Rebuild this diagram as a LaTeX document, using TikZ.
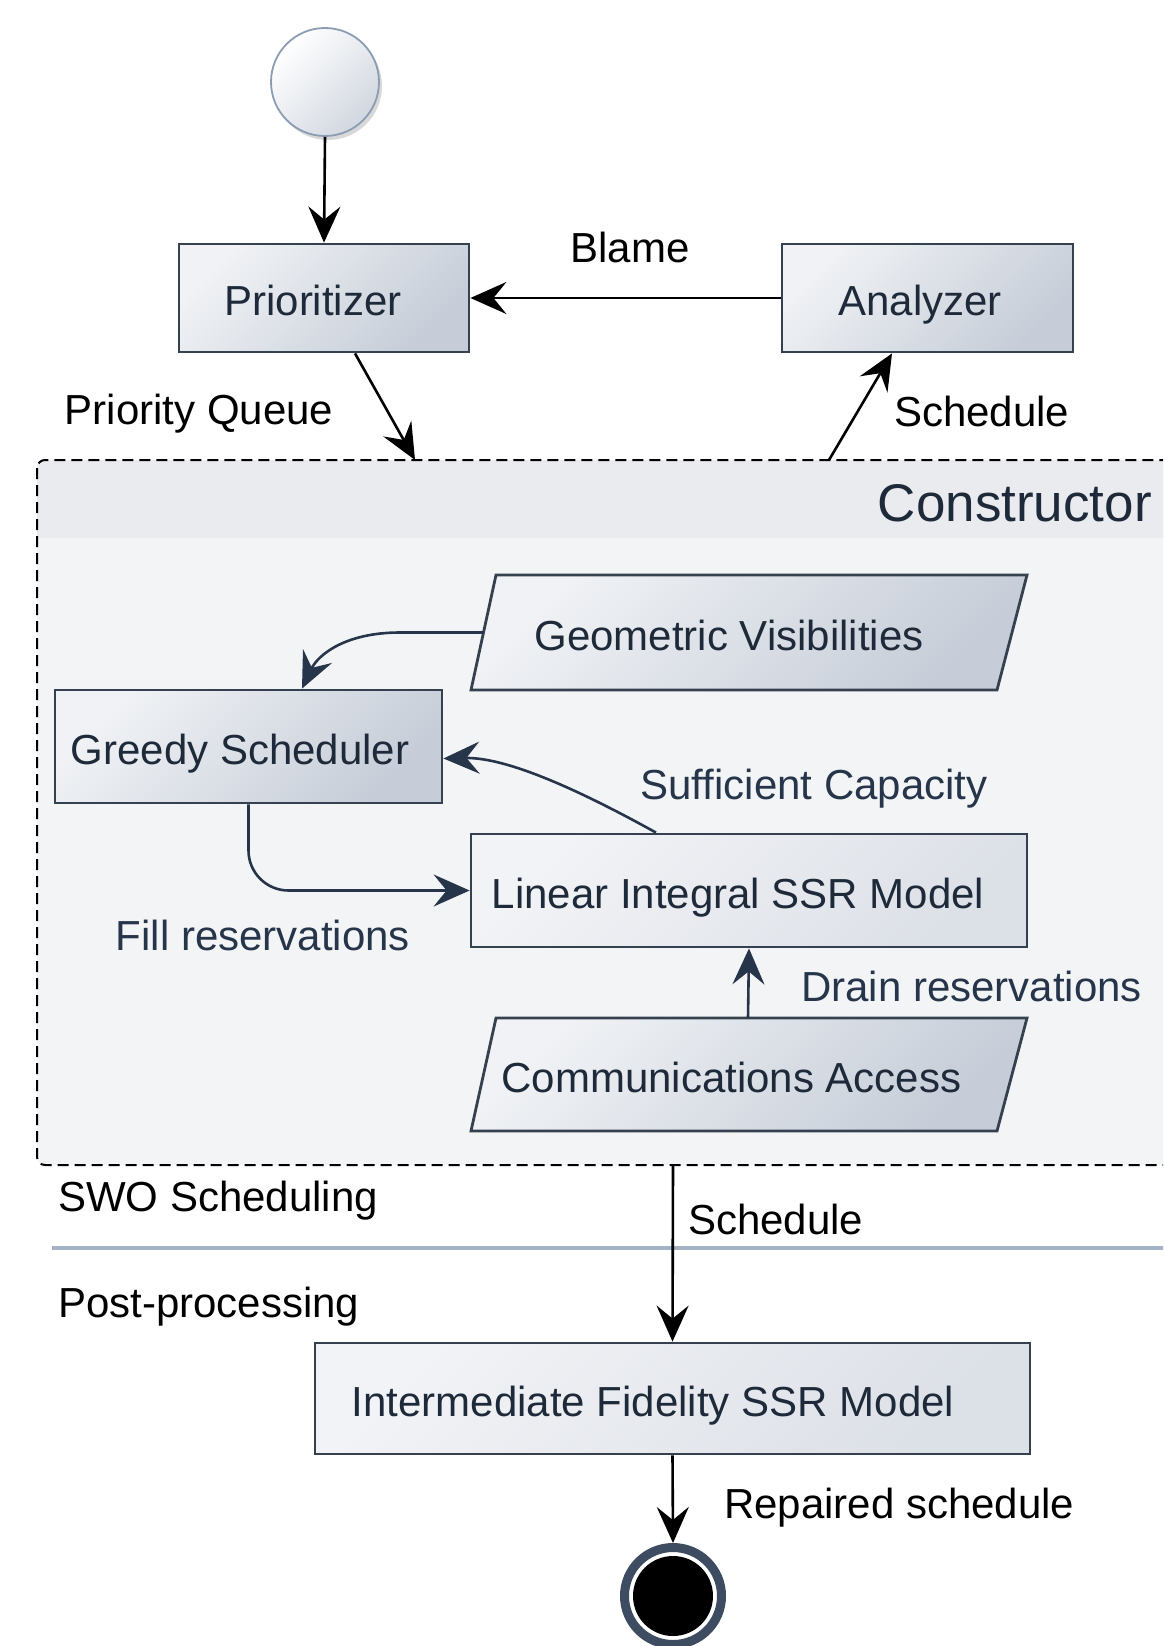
\documentclass[tikz,border=0pt]{standalone}
\usepackage{fontspec}
\setmainfont{Liberation Sans}
\usetikzlibrary{arrows.meta,shadows}

\definecolor{boxlight}{HTML}{F0F2F5}
\definecolor{boxdark}{HTML}{C6CDD8}
\definecolor{palelight}{HTML}{F2F3F6}
\definecolor{paledark}{HTML}{DCE0E7}
\definecolor{edge}{HTML}{36414F}
\definecolor{ink}{HTML}{1E2A39}
\definecolor{laneink}{HTML}{26354A}
\definecolor{regionfill}{HTML}{F3F4F6}
\definecolor{regionhead}{HTML}{EAEBEE}
\definecolor{lanerule}{HTML}{A3B2C4}
\definecolor{startedge}{HTML}{8C9DB3}
\definecolor{endring}{HTML}{3D4C60}

\tikzset{
  txt/.style={font=\fontsize{42}{48}\selectfont},
  lbl/.style={txt, inner sep=0pt, text height=30pt, text depth=0pt},
  boxtext/.style={txt, text=ink, inner sep=0pt, text height=35pt, text depth=0pt},
  actbox/.style={draw=edge, line width=2.8pt, left color=boxlight, right color=boxdark,
    shading angle=45, boxtext},
  palebox/.style={draw=edge, line width=2.8pt, left color=palelight, right color=paledark,
    shading angle=45, boxtext},
  datashape/.style={draw=edge, line width=2.8pt, left color=boxlight, right color=boxdark,
    shading angle=45},
  datatext/.style={boxtext},
  arr/.style={-{Stealth[length=36pt,width=32pt,inset=13pt]}, line width=2.6pt, draw=black},
  lanearr/.style={arr, draw=laneink},
}

\begin{document}
\begin{tikzpicture}[x=1pt,y=-1pt]
\useasboundingbox (0,0) rectangle (1163,1646);
\fill[white] (0,0) rectangle (1163,1646);

\begin{scope}
\clip (0,0) rectangle (1163,1646);
% Constructor region: body, header band, dashed outline
\fill[regionfill, rounded corners=8pt] (37,460) rectangle (1200,1165);
\begin{scope}
  \clip[rounded corners=8pt] (37,460) rectangle (1200,1165);
  \fill[regionhead] (37,460) rectangle (1200,538);
\end{scope}
\draw[black, line width=2pt, dash pattern=on 11pt off 6pt, rounded corners=8pt]
  (37,460) rectangle (1200,1165);
% lane separator
\draw[lanerule, line width=3.5pt] (52,1248) -- (1170,1248);
\end{scope}

\coordinate (pqin) at (415,460);
\coordinate (schedout) at (829,460);
\coordinate (schedbottom) at (673,1165);

\node[lbl, anchor=east, font=\fontsize{53}{60}\selectfont, text height=38pt, text=ink]
  (constructorlbl) at (1152,502) {Constructor};

% start and end states
\node[circle, minimum size=108pt, draw=startedge, line width=1.8pt,
  left color=white, right color=boxdark!80, shading angle=45,
  drop shadow={opacity=0.3, shadow xshift=3pt, shadow yshift=-4pt}] (start) at (325,82) {};
\node[circle, minimum size=97pt, fill=white, draw=endring, line width=9pt,
  drop shadow={opacity=0.3, shadow xshift=3pt, shadow yshift=-3pt}] (finish) at (673,1596) {};
\fill[black] (finish.center) circle (40pt);

% activities
\node[actbox, minimum width=290pt, minimum height=108pt] (prio) at (324,298) {Prioritizer\kern22pt};
\node[actbox, minimum width=291pt, minimum height=108pt] (analyzer) at (927.5,298) {Analyzer\kern15pt};
\node[actbox, minimum width=387pt, minimum height=113pt] (greedy) at (248.5,746.5) {Greedy Scheduler\kern17pt};
\node[palebox, minimum width=556pt, minimum height=113pt] (linear) at (749,890.5) {Linear Integral SSR Model\kern22pt};
\node[palebox, minimum width=715pt, minimum height=111pt] (inter) at (672.5,1398.5) {Intermediate Fidelity SSR Model\kern39pt};

% data inputs (parallelograms)
\path[datashape] (496,575) -- (1027,575) -- (997,690) -- (471,690) -- cycle;
\node[datatext, minimum width=528.5pt, minimum height=115pt] (geo) at (748,632.5) {Geometric Visibilities\kern38pt};
\path[datashape] (496,1018) -- (1027,1018) -- (997,1131) -- (471,1131) -- cycle;
\node[datatext, minimum width=528.5pt, minimum height=113pt] (comm) at (748,1074.5) {Communications Access\kern33pt};

% connectors
\draw[arr] (start.south) -- (prio.north);
\draw[arr] (analyzer.west) -- (prio.east);
\draw[arr] ([xshift=31pt]prio.south) -- (pqin);
\draw[arr] (schedout) -- ([xshift=-35.5pt]analyzer.south);
\draw[lanearr] (geo.west) -- (400,632.5) .. controls (345,632.5) and (318,655) .. ([xshift=53.5pt]greedy.north);
\draw[lanearr] ([xshift=-93pt]linear.north) .. controls (590,796) and (510,757) .. ([yshift=-12pt]greedy.east);
\draw[lanearr, rounded corners=40pt] (greedy.south) |- (linear.west);
\draw[lanearr] (comm.north) -- (linear.south);
\draw[arr] (schedbottom) -- (inter.north);
\draw[arr] (inter.south) -- (finish.north);

% labels
\node[lbl] (blame) at (630,247) {Blame};
\node[lbl] (pq) at (199,409) {Priority Queue};
\node[lbl, anchor=west] (schedup) at (894,411) {Schedule};
\node[lbl, text=laneink] (suff) at (814,784) {Sufficient Capacity};
\node[lbl, text=laneink] (fill) at (263,935) {Fill reservations};
\node[lbl, text=laneink, anchor=west] (drain) at (801,986) {Drain reservations};
\node[lbl, anchor=west] (swo) at (58,1196) {SWO Scheduling};
\node[lbl, anchor=west] (scheddown) at (688,1219) {Schedule};
\node[lbl, anchor=west] (post) at (58,1302) {Post-processing};
\node[lbl, anchor=west] (repaired) at (724,1503) {Repaired schedule};
\end{tikzpicture}
\end{document}
